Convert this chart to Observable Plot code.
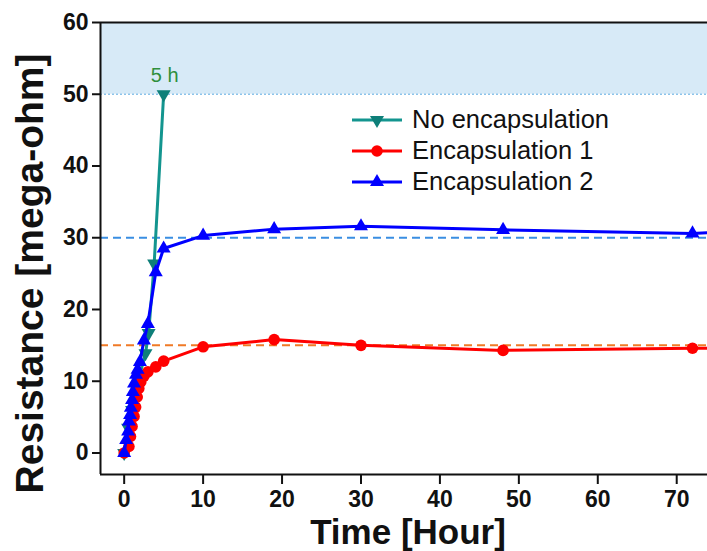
<!DOCTYPE html>
<html><head><meta charset="utf-8">
<script src="https://cdn.jsdelivr.net/npm/d3@7"></script>
<script src="https://cdn.jsdelivr.net/npm/@observablehq/plot@0.6"></script>
<style>
body{margin:0;background:#fff;}
#wrap{position:relative;width:707px;height:551px;overflow:hidden;font-family:"Liberation Sans",Arial,sans-serif;}
#legend{position:absolute;left:350px;top:104px;font-size:25.5px;color:#111;}
#legend .row{display:flex;align-items:center;height:31px;}
#legend svg{margin-right:8px;}
</style></head><body><div id="wrap"></div>
<script>
// Data (Time in hours, Resistance in mega-ohm)
const noEncTime = [0, 0.5, 1, 1.5, 2, 2.7, 3.1, 3.8, 5];
const noEncRes  = [0, 3.5, 6, 9, 11, 13.9, 16.7, 26.4, 50];

const enc1Time = [0, 0.6, 0.8, 1.0, 1.25, 1.45, 1.65, 1.85, 2.1, 2.5, 3, 4, 5, 10, 19, 30, 48, 72, 76];
const enc1Res  = [0, 0.9, 2.3, 3.7, 5.1, 6.4, 7.8, 9.0, 9.9, 10.7, 11.3, 12.0, 12.8, 14.8, 15.8, 15.0, 14.3, 14.6, 14.6];

const enc2Time = [0, 0.25, 0.5, 0.6, 0.75, 0.85, 1, 1.1, 1.25, 1.5, 1.7, 2, 2.5, 3, 4, 5, 10, 19, 30, 48, 72, 76];
const enc2Res  = [0, 1.8, 3, 4.4, 5.3, 6.3, 7.4, 8.5, 9.7, 10.9, 11.6, 12.7, 15.7, 18, 25.2, 28.5, 30.3, 31.2, 31.6, 31.1, 30.6, 30.8];

const seriesNames = ["No encapsulation", "Encapsulation 1", "Encapsulation 2"];
const xTicks = [0, 10, 20, 30, 40, 50, 60, 70];
const yTicks = [0, 10, 20, 30, 40, 50, 60];
const xDomain = [-3, 73.9];
const yDomain = [-3, 60];
const bandLow = 50, bandHigh = 60;
const refEnc2 = 30, refEnc1 = 15;
const annotation = {t: 5, v: 52.6, label: "5 h"};
const xLabel = "Time [Hour]";
const yLabel = "Resistance [mega-ohm]";

const toRows = (ts, vs) => ts.map((t, i) => ({t, v: vs[i]}));
const noEnc = toRows(noEncTime, noEncRes);
const enc1 = toRows(enc1Time, enc1Res);
const enc2 = toRows(enc2Time, enc2Res);

const TEAL = "#13958f", TEALDARK = "#0e7f79", RED = "#ff0000", BLUE = "#0000ff";
const FONT = "Liberation Sans, Arial, sans-serif";

const chart = Plot.plot({
  width: 707, height: 551,
  marginLeft: 100, marginRight: 0, marginTop: 22, marginBottom: 77,
  style: {fontFamily: FONT, background: "white", color: "#111"},
  x: {domain: xDomain},
  y: {domain: yDomain},
  marks: [
    Plot.rect([{lo: bandLow, hi: bandHigh}], {y1: "lo", y2: "hi", fill: "#d7eaf7"}),
    Plot.ruleY([bandLow], {stroke: "#8cc3ea", strokeWidth: 1.3, strokeDasharray: "2,2"}),
    Plot.ruleY([refEnc2], {stroke: "#3a8ee2", strokeWidth: 2, strokeDasharray: "8,5"}),
    Plot.ruleY([refEnc1], {stroke: "#f07a26", strokeWidth: 2, strokeDasharray: "8,5"}),
    Plot.line(noEnc, {x: "t", y: "v", stroke: TEAL, strokeWidth: 3, clip: true}),
    Plot.dot(noEnc, {x: "t", y: "v", symbol: "triangle", rotate: 180, r: 5.2, fill: TEALDARK, stroke: "none", clip: true}),
    Plot.line(enc1, {x: "t", y: "v", stroke: RED, strokeWidth: 3, clip: true}),
    Plot.dot(enc1, {x: "t", y: "v", symbol: "circle", r: 5.8, fill: RED, stroke: "none", clip: true}),
    Plot.line(enc2, {x: "t", y: "v", stroke: BLUE, strokeWidth: 3, clip: true}),
    Plot.dot(enc2, {x: "t", y: "v", symbol: "triangle", r: 5.2, fill: BLUE, stroke: "none", clip: true}),
    Plot.text([annotation], {x: "t", y: "v", text: "label", fill: "#2f8f3c", fontSize: 20, dx: 1}),
    Plot.ruleY([yDomain[1]], {stroke: "#111", strokeWidth: 2}),
    Plot.ruleY([yDomain[0]], {stroke: "#111", strokeWidth: 2}),
    Plot.ruleX([xDomain[0]], {stroke: "#111", strokeWidth: 2}),
    Plot.axisX({ticks: xTicks, tickSize: 10, tickPadding: 6, strokeWidth: 2, fontSize: 23, fontWeight: "bold", label: null, tickFormat: d => d}),
    Plot.axisY({ticks: yTicks, tickSize: 8, tickPadding: 4, strokeWidth: 2, fontSize: 23, fontWeight: "bold", label: null, tickFormat: d => d}),
    Plot.text([xLabel], {frameAnchor: "bottom", lineAnchor: "bottom", dy: 69, dx: 4, fontSize: 35, fontWeight: "bold", fill: "#111"}),
    Plot.text([yLabel], {frameAnchor: "left", textAnchor: "middle", lineAnchor: "middle", dx: -70, dy: 25, rotate: -90, fontSize: 39, fontWeight: "bold", fill: "#111"})
  ]
});

const wrap = document.getElementById("wrap");
wrap.appendChild(chart);

// Legend
const legend = document.createElement("div");
legend.id = "legend";
const legendStyles = [
  {stroke: TEAL, fill: TEALDARK, sym: d3.symbolTriangle, rot: 180, r: 5.2},
  {stroke: RED, fill: RED, sym: d3.symbolCircle, rot: 0, r: 5.8},
  {stroke: BLUE, fill: BLUE, sym: d3.symbolTriangle, rot: 0, r: 5.2}
];
seriesNames.forEach((name, i) => {
  const s = legendStyles[i];
  const row = document.createElement("div");
  row.className = "row";
  const path = d3.symbol(s.sym, Math.PI * s.r * s.r)();
  row.innerHTML = `<svg width="54" height="20"><line x1="2" x2="52" y1="10" y2="10" stroke="${s.stroke}" stroke-width="3"/><path d="${path}" fill="${s.fill}" transform="translate(27,10) rotate(${s.rot})"/></svg><span>${name}</span>`;
  legend.appendChild(row);
});
wrap.appendChild(legend);
</script>
</body></html>
